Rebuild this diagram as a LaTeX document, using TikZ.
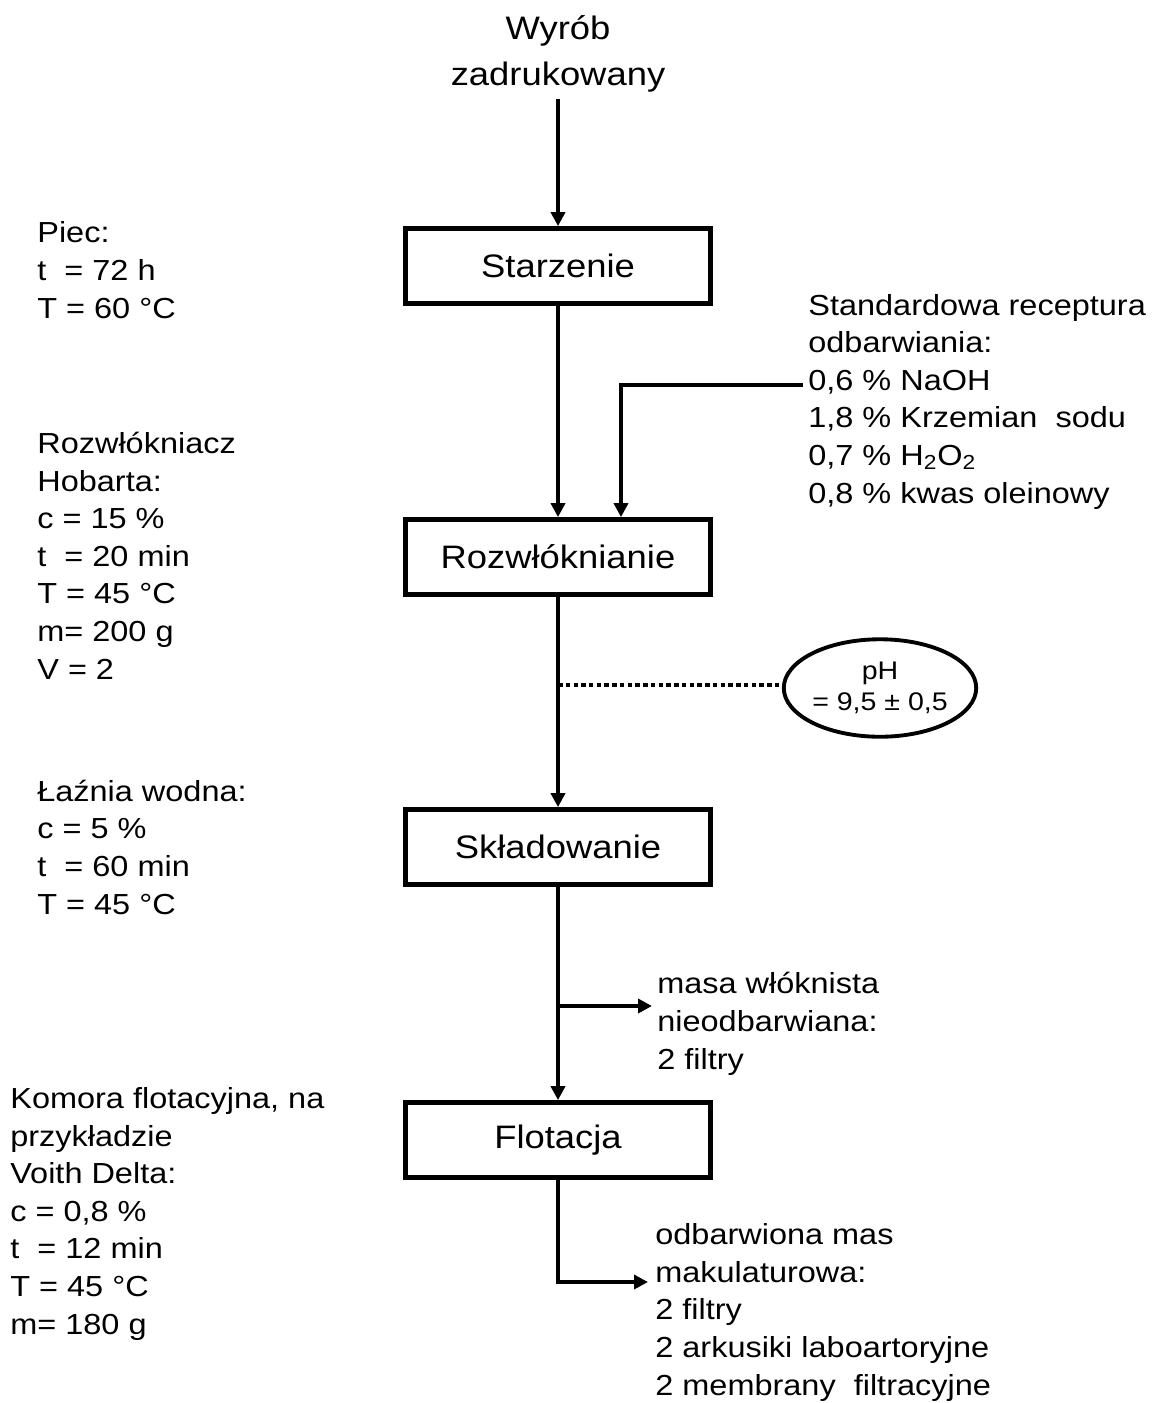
\documentclass[tikz,border=0pt]{standalone}
\usepackage{fontspec}
\setmainfont{Liberation Sans}[FakeStretch=1.12]
\usepackage{tikz}
\usetikzlibrary{
arrows.meta,
positioning,
shapes.geometric
}

\begin{document}
\begin{tikzpicture}[
    x=0.02cm,
    y=-0.02cm,
    font=\fontsize{16.5}{21.4}\selectfont,
    >={Triangle[length=0.28cm,width=0.28cm]},
    procbox/.style={
        draw,
        line width=2.7pt,
        minimum width=6.1cm,
        minimum height=1.5cm,
        font=\fontsize{18.5}{22}\selectfont
    },
    flow/.style={
        ->,
        line width=2.3pt
    },
    % base = baseline of the last line
    note/.style={
        anchor=base west,
        align=left,
        inner sep=0pt
    }
]

\useasboundingbox (0,0) rectangle (1159,1403);

% =====================================================
% MAIN PROCESS CHAIN
% =====================================================
\node[
    align=center,
    font=\fontsize{18.5}{26.5}\selectfont
]
(src)
at (558,54)
{Wyrób\\zadrukowany};

\node[procbox] (stz)  at (558,266)  {Starzenie};
\node[procbox] (rozw) at (558,557)  {Rozwłóknianie};
\node[procbox] (skl)  at (558,847)  {Składowanie};
\node[procbox] (flot) at (558,1140) {Flotacja};

\draw[flow] (src) -- (stz);
\draw[flow] (stz) -- (rozw);
\draw[flow] (rozw) -- (skl);
\draw[flow] (skl) -- (flot);

% =====================================================
% PROCESS CONDITIONS (LEFT)
% =====================================================
\node[note] (piec) at (37,318)
{Piec:\\t\ \ = 72 h\\T = 60 °C};

\node[note] (hobart) at (37,679)
{Rozwłókniacz\\Hobarta:\\c = 15 \%\\t\ \ = 20 min\\T = 45 °C\\m= 200 g\\V = 2};

\node[note] (bath) at (37,914)
{Łaźnia wodna:\\c = 5 \%\\t\ \ = 60 min\\T = 45 °C};

\node[note] (cell) at (10,1334)
{Komora flotacyjna, na\\przykładzie\\Voith Delta:\\c = 0,8 \%\\t\ \ = 12 min\\T = 45 °C\\m= 180 g};

% =====================================================
% DEINKING RECIPE
% =====================================================
\node[note] (recipe) at (808,503)
{Standardowa receptura\\odbarwiania:\\0,6 \% NaOH\\1,8 \% Krzemian\ \ sodu\\0,7 \% H\textsubscript{2}O\textsubscript{2}\\0,8 \% kwas oleinowy};

\coordinate (feed) at (803,385);
\draw[flow] (feed) -| ([xshift=1.26cm]rozw.north);

% =====================================================
% pH CONTROL
% =====================================================
\node[
    draw,
    ellipse,
    line width=2.2pt,
    minimum width=3.85cm,
    minimum height=1.95cm,
    inner sep=0pt,
    align=center,
    font=\fontsize{14.5}{18}\selectfont
]
(ph)
at (880,688)
{pH\\= 9,5 ± 0,5};

\coordinate (tap) at (558,685);
\draw[
    line width=2.7pt,
    dash pattern=on 0.09cm off 0.065cm
]
(tap) -- (tap -| ph.west);

% =====================================================
% SAMPLES
% =====================================================
\node[note] (raw) at (657,1069)
{masa włóknista\\nieodbarwiana:\\2 filtry};

\coordinate (br1) at (558,1006);
\coordinate (out1) at (652,1006);
\draw[flow] (br1) -- (out1);

\node[note] (clean) at (655,1395)
{odbarwiona mas\\makulaturowa:\\2 filtry\\2 arkusiki laboartoryjne\\2 membrany\ \ filtracyjne};

\coordinate (out2) at (648,1282);
\draw[flow] (flot.south) |- (out2);

\end{tikzpicture}
\end{document}
